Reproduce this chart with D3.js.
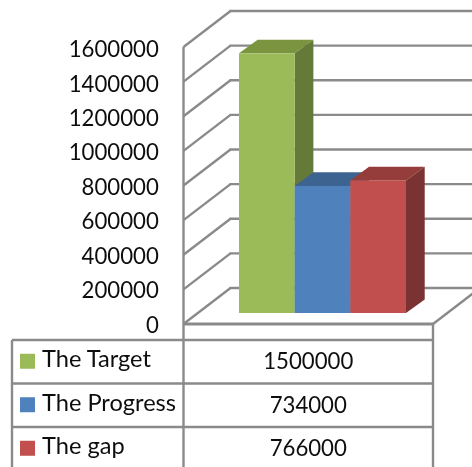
<!DOCTYPE html>
<html>
<head>
<meta charset="utf-8">
<style>
  html, body { margin: 0; padding: 0; background: #fff; }
  svg { display: block; }
  text { font-family: Lato, "Open Sans", sans-serif; fill: #111; }
</style>
<script src="https://cdnjs.cloudflare.com/ajax/libs/d3/7.8.5/d3.min.js"></script>
</head>
<body>
<svg id="chart"></svg>
<script>
const width = 472;
const height = 467;

// Data
const categories = ["The Target", "The Progress", "The gap"];
const values = [1500000, 734000, 766000];
const tickValues = [0, 200000, 400000, 600000, 800000, 1000000, 1200000, 1400000, 1600000];
const faceColors = ["#9bbb59", "#4f81bd", "#c0504d"];
const topColors = ["#7a9440", "#3c6390", "#943c3a"];
const sideColors = ["#657a37", "#3c6390", "#7a3230"];

// Layout of the fake 3D box
const wallLeft = 183.5;
const floorRight = 433;
const floorFront = 324;
const valueHeight = 277;
const depthX = 47;
const depthY = -36;
const barLeft = 239;
const barRight = 406;
const barBase = 313;
const barDepthX = 18.7;
const barDepthY = -13.6;

// Table layout
const tableLeft = 12;
const tableTop = 340;
const rowStep = 43.5;

const lineColor = "#8a8a8a";

const svg = d3.select("#chart")
  .attr("width", width)
  .attr("height", height)
  .attr("viewBox", `0 0 ${width} ${height}`);

// the reference is an upscaled bitmap, so everything is slightly soft
svg.append("defs").append("filter")
  .attr("id", "soft")
  .append("feGaussianBlur")
  .attr("stdDeviation", 0.45);

const root = svg.append("g").attr("filter", "url(#soft)");

const y = d3.scaleLinear()
  .domain([0, 1600000])
  .range([0, -valueHeight]);

const x = d3.scaleBand()
  .domain(categories)
  .range([barLeft, barRight]);

const rows = d3.scaleBand()
  .domain(categories)
  .range([tableTop, tableTop + rowStep * categories.length]);

const line = (g, x1, y1, x2, y2, w = 2.4) => g.append("line")
  .attr("x1", x1).attr("y1", y1)
  .attr("x2", x2).attr("y2", y2)
  .attr("stroke", lineColor)
  .attr("stroke-width", w);

// Walls and gridlines
const grid = root.append("g");
tickValues.forEach(t => {
  const yy = floorFront + y(t);
  line(grid, wallLeft, yy, wallLeft + depthX, yy + depthY);
  line(grid, wallLeft + depthX - 1, yy + depthY, width, yy + depthY);
});
line(grid, wallLeft, floorFront + y(1600000), wallLeft, height);
line(grid, wallLeft, floorFront, floorRight, floorFront, 2.8);
line(grid, floorRight, floorFront, floorRight + depthX, floorFront + depthY);

// Value axis labels
const axis = d3.axisLeft(d3.scaleLinear().domain(y.domain()).range([325, 49.5]))
  .tickValues(tickValues)
  .tickSize(0)
  .tickPadding(0)
  .tickFormat(d3.format("d"));

root.append("g")
  .attr("transform", "translate(158.8,0)")
  .call(axis)
  .call(g => g.select(".domain").remove())
  .selectAll("text")
  .attr("font-size", 22.2)
  .style("font-family", "Lato");

// Bars, drawn left to right so each covers the side of the previous one
const bars = root.append("g")
  .selectAll("g")
  .data(categories)
  .join("g");

bars.append("polygon")
  .attr("fill", (d, i) => topColors[i])
  .attr("points", (d, i) => {
    const l = x(d), r = l + x.bandwidth(), t = barBase + y(values[i]);
    return [[l, t], [r, t], [r + barDepthX, t + barDepthY], [l + barDepthX, t + barDepthY]].join(" ");
  });

bars.append("polygon")
  .attr("fill", (d, i) => sideColors[i])
  .attr("points", (d, i) => {
    const r = x(d) + x.bandwidth(), t = barBase + y(values[i]);
    return [[r, t], [r + barDepthX, t + barDepthY], [r + barDepthX, barBase + barDepthY], [r, barBase]].join(" ");
  });

bars.append("rect")
  .attr("x", d => x(d))
  .attr("width", x.bandwidth())
  .attr("y", (d, i) => barBase + y(values[i]))
  .attr("height", (d, i) => -y(values[i]))
  .attr("fill", (d, i) => faceColors[i]);

// Data table
const table = root.append("g");
line(table, tableLeft, tableTop, tableLeft, height);
line(table, floorRight, floorFront, floorRight, height);
d3.range(categories.length + 1).forEach(i => {
  line(table, tableLeft, tableTop + rowStep * i, floorRight, tableTop + rowStep * i);
});

const row = table.selectAll("g.row")
  .data(categories)
  .join("g")
  .attr("class", "row");

row.append("rect")
  .attr("x", 20)
  .attr("y", d => rows(d) + rows.bandwidth() / 2 - 8)
  .attr("width", 15)
  .attr("height", 15)
  .attr("fill", (d, i) => faceColors[i]);

row.append("text")
  .attr("x", 42)
  .attr("y", d => rows(d) + rows.bandwidth() / 2 + 5.5)
  .attr("font-size", 23.6)
  .text(d => d);

row.append("text")
  .attr("x", (wallLeft + floorRight) / 2)
  .attr("y", d => rows(d) + rows.bandwidth() / 2 + 7.5)
  .attr("font-size", 22.2)
  .attr("text-anchor", "middle")
  .text((d, i) => values[i]);
</script>
</body>
</html>
